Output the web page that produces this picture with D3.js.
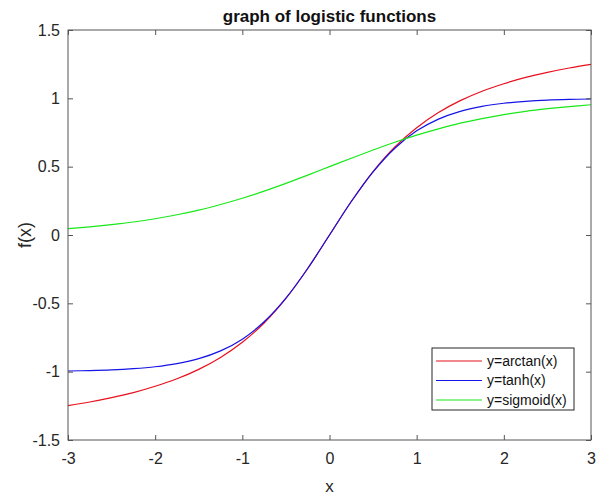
<!DOCTYPE html>
<html>
<head>
<meta charset="utf-8">
<script src="https://cdn.jsdelivr.net/npm/d3@7"></script>
<style>
	body { margin: 0; background: #fff; }
	text { font-family: "Liberation Sans", Arial, sans-serif; }
</style>
</head>
<body>
<svg width="602" height="494"></svg>
<script>
// values
const xs = [-3, -2.75, -2.5, -2.25, -2, -1.75, -1.5, -1.25, -1, -0.75, -0.5, -0.25, 0,
	0.25, 0.5, 0.75, 1, 1.25, 1.5, 1.75, 2, 2.25, 2.5, 2.75, 3];
const arctanValues = [-1.249, -1.222, -1.190, -1.153, -1.107, -1.052, -0.983, -0.896, -0.785, -0.644, -0.464, -0.245, 0,
	0.245, 0.464, 0.644, 0.785, 0.896, 0.983, 1.052, 1.107, 1.153, 1.190, 1.222, 1.249];
const tanhValues = [-0.995, -0.992, -0.987, -0.978, -0.964, -0.941, -0.905, -0.848, -0.762, -0.635, -0.462, -0.245, 0,
	0.245, 0.462, 0.635, 0.762, 0.848, 0.905, 0.941, 0.964, 0.978, 0.987, 0.992, 0.995];
const sigmoidValues = [0.047, 0.060, 0.076, 0.095, 0.119, 0.148, 0.182, 0.223, 0.269, 0.321, 0.378, 0.438, 0.5,
	0.562, 0.622, 0.679, 0.731, 0.777, 0.818, 0.852, 0.881, 0.905, 0.924, 0.940, 0.953];
const seriesNames = ["y=arctan(x)", "y=tanh(x)", "y=sigmoid(x)"];
const xTicks = [-3, -2, -1, 0, 1, 2, 3];
const yTicks = [-1.5, -1, -0.5, 0, 0.5, 1, 1.5];

const svg = d3.select("svg");
const width = +svg.attr("width");
const height = +svg.attr("height");
const margin = { top: 30, right: 11, bottom: 54, left: 68 };
const innerWidth = width - margin.left - margin.right;
const innerHeight = height - margin.top - margin.bottom;
const axisColor = "#555";
const textColor = "#262626";

const xScale = d3.scaleLinear().domain([-3, 3]).range([0, innerWidth]);
const yScale = d3.scaleLinear().domain([-1.5, 1.5]).range([innerHeight, 0]);

const g = svg.append("g")
	.attr("transform", `translate(${margin.left},${margin.top})`);

const series = [
	{ name: seriesNames[0], values: arctanValues, color: "#e8101e" },
	{ name: seriesNames[1], values: tanhValues, color: "#1414e6" },
	{ name: seriesNames[2], values: sigmoidValues, color: "#18e818" }
];

const line = d3.line()
	.x(d => xScale(d[0]))
	.y(d => yScale(d[1]))
	.curve(d3.curveCatmullRom);

g.selectAll("path.curve").data(series)
	.enter().append("path")
		.attr("class", "curve")
		.attr("fill", "none")
		.attr("stroke", s => s.color)
		.attr("stroke-width", 1.2)
		.attr("d", s => line(xs.map((x, i) => [x, s.values[i]])));

// MATLAB-style box with inward ticks on all four sides
const tickText = d => String(d); // plain hyphen minus, as in the reference
const styleAxis = sel => {
	sel.select(".domain").remove();
	sel.selectAll(".tick line").attr("stroke", axisColor);
	sel.selectAll(".tick text")
		.attr("fill", textColor)
		.style("font-size", "16px");
};
const dropText = sel => sel.selectAll(".tick text").remove();

g.append("g")
	.attr("transform", `translate(0,${innerHeight})`)
	.call(d3.axisBottom(xScale).tickValues(xTicks).tickFormat(tickText).tickSize(-5).tickPadding(13))
	.call(styleAxis);
g.append("g")
	.call(d3.axisTop(xScale).tickValues(xTicks).tickSize(-5))
	.call(styleAxis)
	.call(dropText);
g.append("g")
	.call(d3.axisLeft(yScale).tickValues(yTicks).tickFormat(tickText).tickSize(-5).tickPadding(8))
	.call(styleAxis);
g.append("g")
	.attr("transform", `translate(${innerWidth},0)`)
	.call(d3.axisRight(yScale).tickValues(yTicks).tickSize(-5))
	.call(styleAxis)
	.call(dropText);

g.append("rect")
	.attr("width", innerWidth)
	.attr("height", innerHeight)
	.attr("fill", "none")
	.attr("stroke", axisColor)
	.attr("stroke-width", 1);

// labels
svg.append("text")
	.attr("x", margin.left + innerWidth / 2)
	.attr("y", 22)
	.attr("text-anchor", "middle")
	.attr("font-weight", "bold")
	.attr("font-size", 17)
	.attr("fill", "#111")
	.text("graph of logistic functions");

svg.append("text")
	.attr("x", margin.left + innerWidth / 2)
	.attr("y", 492)
	.attr("text-anchor", "middle")
	.attr("font-size", 17)
	.attr("fill", textColor)
	.text("x");

svg.append("text")
	.attr("transform", `translate(31,${margin.top + innerHeight / 2}) rotate(-90)`)
	.attr("text-anchor", "middle")
	.attr("font-size", 18)
	.attr("fill", textColor)
	.text("f(x)");

// legend
const legend = g.append("g")
	.attr("transform", `translate(${432 - margin.left},${348 - margin.top})`);
legend.append("rect")
	.attr("width", 142)
	.attr("height", 62)
	.attr("fill", "#fff")
	.attr("stroke", textColor);
const item = legend.selectAll("g.item").data(series)
	.enter().append("g")
		.attr("class", "item")
		.attr("transform", (d, i) => `translate(0,${13 + i * 19.5})`);
item.append("line")
	.attr("x1", 4).attr("x2", 50)
	.attr("stroke", d => d.color)
	.attr("stroke-width", 1.2);
item.append("text")
	.attr("x", 55)
	.attr("dy", "0.35em")
	.attr("font-size", 14)
	.attr("fill", "#111")
	.text(d => d.name);
</script>
</body>
</html>
